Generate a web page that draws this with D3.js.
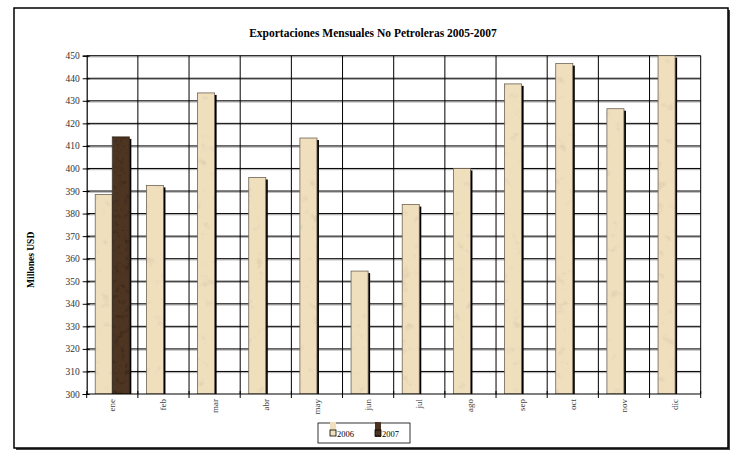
<!DOCTYPE html>
<html>
<head>
<meta charset="utf-8">
<script src="https://cdn.jsdelivr.net/npm/d3@7"></script>
<style>
  body { margin: 0; background: #fff; }
  svg { display: block; }
  svg text { font-family: "Liberation Serif", "Times New Roman", "DejaVu Serif", serif; }
</style>
</head>
<body>
<div id="chart"></div>
<script>
// Data
const months = ["ene", "feb", "mar", "abr", "may", "jun", "jul", "ago", "sep", "oct", "nov", "dic"];
const years = ["2006", "2007"];
const v2006 = [388.5, 392.5, 433.5, 396, 413.5, 354.5, 384, 400, 437.5, 446.5, 426.5, 450];
const v2007 = [414, null, null, null, null, null, null, null, null, null, null, null];
const yTicks = [300, 310, 320, 330, 340, 350, 360, 370, 380, 390, 400, 410, 420, 430, 440, 450];

const width = 744, height = 450;
const plotLeft = 86.7, plotRight = 700.7, plotTop = 55.7, plotBottom = 394;

const svg = d3.select("#chart").append("svg").attr("width", width).attr("height", height);
const defs = svg.append("defs");

// textura tipo pergamino
function texture(id, seed, freq, slope, intercept) {
  const f = defs.append("filter").attr("id", id)
    .attr("x", 0).attr("y", 0).attr("width", 1).attr("height", 1);
  f.append("feTurbulence").attr("type", "fractalNoise").attr("baseFrequency", freq)
    .attr("numOctaves", 4).attr("seed", seed).attr("result", "n");
  f.append("feColorMatrix").attr("in", "n").attr("type", "saturate").attr("values", 0).attr("result", "g");
  const ct = f.append("feComponentTransfer").attr("in", "g").attr("result", "g2");
  ["R", "G", "B"].forEach(c => ct.append("feFunc" + c).attr("type", "linear").attr("slope", slope).attr("intercept", intercept));
  ct.append("feFuncA").attr("type", "linear").attr("slope", 0).attr("intercept", 1);
  f.append("feBlend").attr("in", "SourceGraphic").attr("in2", "g2").attr("mode", "multiply").attr("result", "b");
  f.append("feComposite").attr("in", "b").attr("in2", "SourceGraphic").attr("operator", "in");
}
texture("tex06", 4, 0.09, 0.7, 0.72);
texture("tex07", 9, 0.2, 1.4, 0.3);

const colors = { "2006": "#f0dfbd", "2007": "#4e3522" };
const filters = { "2006": "url(#tex06)", "2007": "url(#tex07)" };

// marco del gráfico
svg.append("rect").attr("x", 16).attr("y", 10).attr("width", 714).attr("height", 440).attr("fill", "#444");
svg.append("rect").attr("x", 14).attr("y", 8).attr("width", 714).attr("height", 440)
  .attr("fill", "#fff").attr("stroke", "#000").attr("stroke-width", 1.5);

// título
svg.append("text").attr("x", 373).attr("y", 37).attr("text-anchor", "middle")
  .attr("font-weight", "bold").attr("font-size", "11.5px")
  .text("Exportaciones Mensuales No Petroleras 2005-2007");

// escalas
const x0 = d3.scaleBand().domain(months).range([plotLeft, plotRight]).padding(0);
const x1 = d3.scaleBand().domain(years).range([0, x0.bandwidth()]).paddingInner(0).paddingOuter(0.5);
const y = d3.scaleLinear().domain([300, 450]).range([plotBottom, plotTop]);

// grid horizontal
const grid = svg.append("g");
grid.selectAll(".shadow").data(yTicks.slice(1)).enter().append("line")
  .attr("x1", plotLeft).attr("x2", plotRight).attr("y1", d => y(d) + 1.2).attr("y2", d => y(d) + 1.2)
  .attr("stroke", "#aaa").attr("stroke-width", 1);
grid.selectAll(".h").data(yTicks.slice(1)).enter().append("line")
  .attr("x1", plotLeft).attr("x2", plotRight).attr("y1", d => y(d)).attr("y2", d => y(d))
  .attr("stroke", "#000").attr("stroke-width", 1);
// grid vertical
grid.selectAll(".v").data(months).enter().append("line")
  .attr("x1", d => x0(d) + x0.bandwidth()).attr("x2", d => x0(d) + x0.bandwidth())
  .attr("y1", plotTop).attr("y2", plotBottom).attr("stroke", "#000").attr("stroke-width", 1);

// barras
const series = years.map(yr => ({ year: yr, values: yr === "2006" ? v2006 : v2007 }));
const barData = [];
series.forEach(s => s.values.forEach((v, i) => { if (v != null) barData.push({ m: months[i], year: s.year, v: v }); }));

svg.append("clipPath").attr("id", "plot").append("rect")
  .attr("x", plotLeft).attr("y", plotTop - 1).attr("width", plotRight - plotLeft + 4).attr("height", plotBottom - plotTop + 1);

const bars = svg.append("g").attr("clip-path", "url(#plot)");
bars.selectAll(".sh").data(barData).enter().append("rect")
  .attr("x", d => x0(d.m) + x1(d.year) + 2).attr("y", d => y(Math.min(d.v, 450)) + 2)
  .attr("width", x1.bandwidth()).attr("height", d => plotBottom - y(Math.min(d.v, 450)))
  .attr("fill", "#000");
bars.selectAll(".bar").data(barData).enter().append("rect")
  .attr("x", d => x0(d.m) + x1(d.year)).attr("y", d => y(Math.min(d.v, 450)))
  .attr("width", x1.bandwidth()).attr("height", d => plotBottom - y(Math.min(d.v, 450)))
  .attr("fill", d => colors[d.year]).attr("filter", d => filters[d.year]);
bars.selectAll(".edge").data(barData).enter().append("rect")
  .attr("x", d => x0(d.m) + x1(d.year)).attr("y", d => y(Math.min(d.v, 450)))
  .attr("width", x1.bandwidth()).attr("height", d => plotBottom - y(Math.min(d.v, 450)))
  .attr("fill", "none").attr("stroke", d => d.year === "2006" ? "#6e6250" : "#2a1c12").attr("stroke-width", 0.8);

// eje Y
const yAxis = d3.axisLeft(y).tickValues(yTicks).tickSize(4).tickPadding(3);
const gy = svg.append("g").attr("transform", `translate(${plotLeft},0)`).call(yAxis);
gy.attr("font-family", null);
gy.select(".domain").attr("stroke", "#000").attr("stroke-width", 1.2);
gy.selectAll(".tick line").attr("stroke", "#000").attr("x2", -4).attr("x1", 3);
gy.selectAll(".tick text").attr("font-size", "9.5px").attr("fill", "#333");

// eje X
const gx = svg.append("g").attr("transform", `translate(0,${plotBottom})`);
gx.append("line").attr("x1", plotLeft).attr("x2", plotRight).attr("stroke", "#000").attr("stroke-width", 1.2);
gx.selectAll(".tk").data([months[0]].concat(months)).enter().append("line")
  .attr("x1", (d, i) => i === 0 ? plotLeft : x0(d) + x0.bandwidth())
  .attr("x2", (d, i) => i === 0 ? plotLeft : x0(d) + x0.bandwidth())
  .attr("y1", -3).attr("y2", 4).attr("stroke", "#000");
gx.selectAll(".lbl").data(months).enter().append("text")
  .attr("transform", d => `translate(${x0(d) + x0.bandwidth() / 2 + 3},5) rotate(-90)`)
  .attr("text-anchor", "end").attr("font-size", "9px")
  .attr("fill", "#444").text(d => d);

// título eje Y
svg.append("text").attr("transform", `translate(34,${(plotTop + plotBottom) / 2 + 35}) rotate(-90)`)
  .attr("text-anchor", "middle").attr("font-weight", "bold").attr("font-size", "9.5px")
  .text("Millones USD");

// leyenda
const lg = svg.append("g");
lg.append("rect").attr("x", 318).attr("y", 423).attr("width", 92).attr("height", 20)
  .attr("fill", "#fff").attr("stroke", "#000").attr("stroke-width", 0.8);
const legX = { "2006": 330, "2007": 375 };
years.forEach(yr => {
  const item = lg.append("g");
  item.append("rect").attr("x", legX[yr]).attr("y", 422).attr("width", 6).attr("height", yr === "2006" ? 8 : 15)
    .attr("fill", colors[yr]).attr("filter", filters[yr]);
  item.append("rect").attr("x", legX[yr]).attr("y", 430).attr("width", 6).attr("height", 6)
    .attr("fill", colors[yr]).attr("stroke", "#000").attr("stroke-width", 0.8);
  item.append("text").attr("x", legX[yr] + 7).attr("y", 437).attr("font-size", "8.5px").text(yr);
});
</script>
</body>
</html>
